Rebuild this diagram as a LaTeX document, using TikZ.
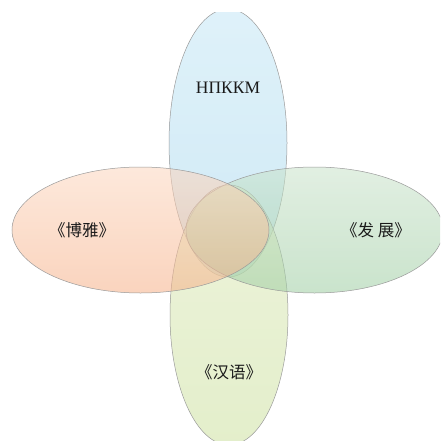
\documentclass[tikz,border=0pt]{standalone}
\usepackage{fontspec}
\setmainfont{Liberation Serif}
\newfontfamily\cjk{Noto Sans CJK SC}
\definecolor{blueTop}{HTML}{C4E6F5}
\definecolor{blueBot}{HTML}{A9D8EE}
\definecolor{orangeTop}{HTML}{FCD6BE}
\definecolor{orangeBot}{HTML}{F5B088}
\definecolor{greenTop}{HTML}{C9E2CA}
\definecolor{greenBot}{HTML}{9ECDA2}
\definecolor{yellowTop}{HTML}{DFEBBC}
\definecolor{yellowBot}{HTML}{CCE0A0}
\definecolor{rim}{HTML}{9A9A9A}
\definecolor{ink}{HTML}{1A1A1A}
\tikzset{
  petal/.style={draw=rim, line width=0.5pt, fill opacity=0.55},
  label/.style={text=ink, inner sep=0pt, anchor=center},
  cjklabel/.style={label, font=\cjk\fontsize{16.5}{16.5}\selectfont},
}
\begin{document}
\begin{tikzpicture}[x=1pt,y=-1pt]
  \useasboundingbox (0,0) rectangle (440,441);
  % top petal, cut off a little below the upper edge
  \begin{scope}
    \clip (0,13) rectangle (440,441);
    \shade[petal, top color=blueTop, bottom color=blueBot]
      (228,143) ellipse [x radius=59pt, y radius=134pt];
  \end{scope}
  \begin{scope}
    \clip (0,0) rectangle (440,441);
    % bottom petal
    \shade[petal, top color=yellowTop, bottom color=yellowBot]
      (229,315) ellipse [x radius=59pt, y radius=130pt];
    % right petal
    \shade[petal, top color=greenTop, bottom color=greenBot]
      (314.5,230) ellipse [x radius=128.5pt, y radius=63pt];
    % left petal
    \shade[petal, top color=orangeTop, bottom color=orangeBot]
      (140.5,230) ellipse [x radius=128.5pt, y radius=63pt];
  \end{scope}
  \node[label, font=\fontsize{17.5}{17.5}\selectfont] (top) at (228,88) {НПККМ};
  \node[cjklabel] (left) at (82,230) {《博雅》};
  \node[cjklabel] (right) at (376,230) {《发 展》};
  \node[cjklabel] (bottom) at (229,372) {《汉语》};
\end{tikzpicture}
\end{document}
